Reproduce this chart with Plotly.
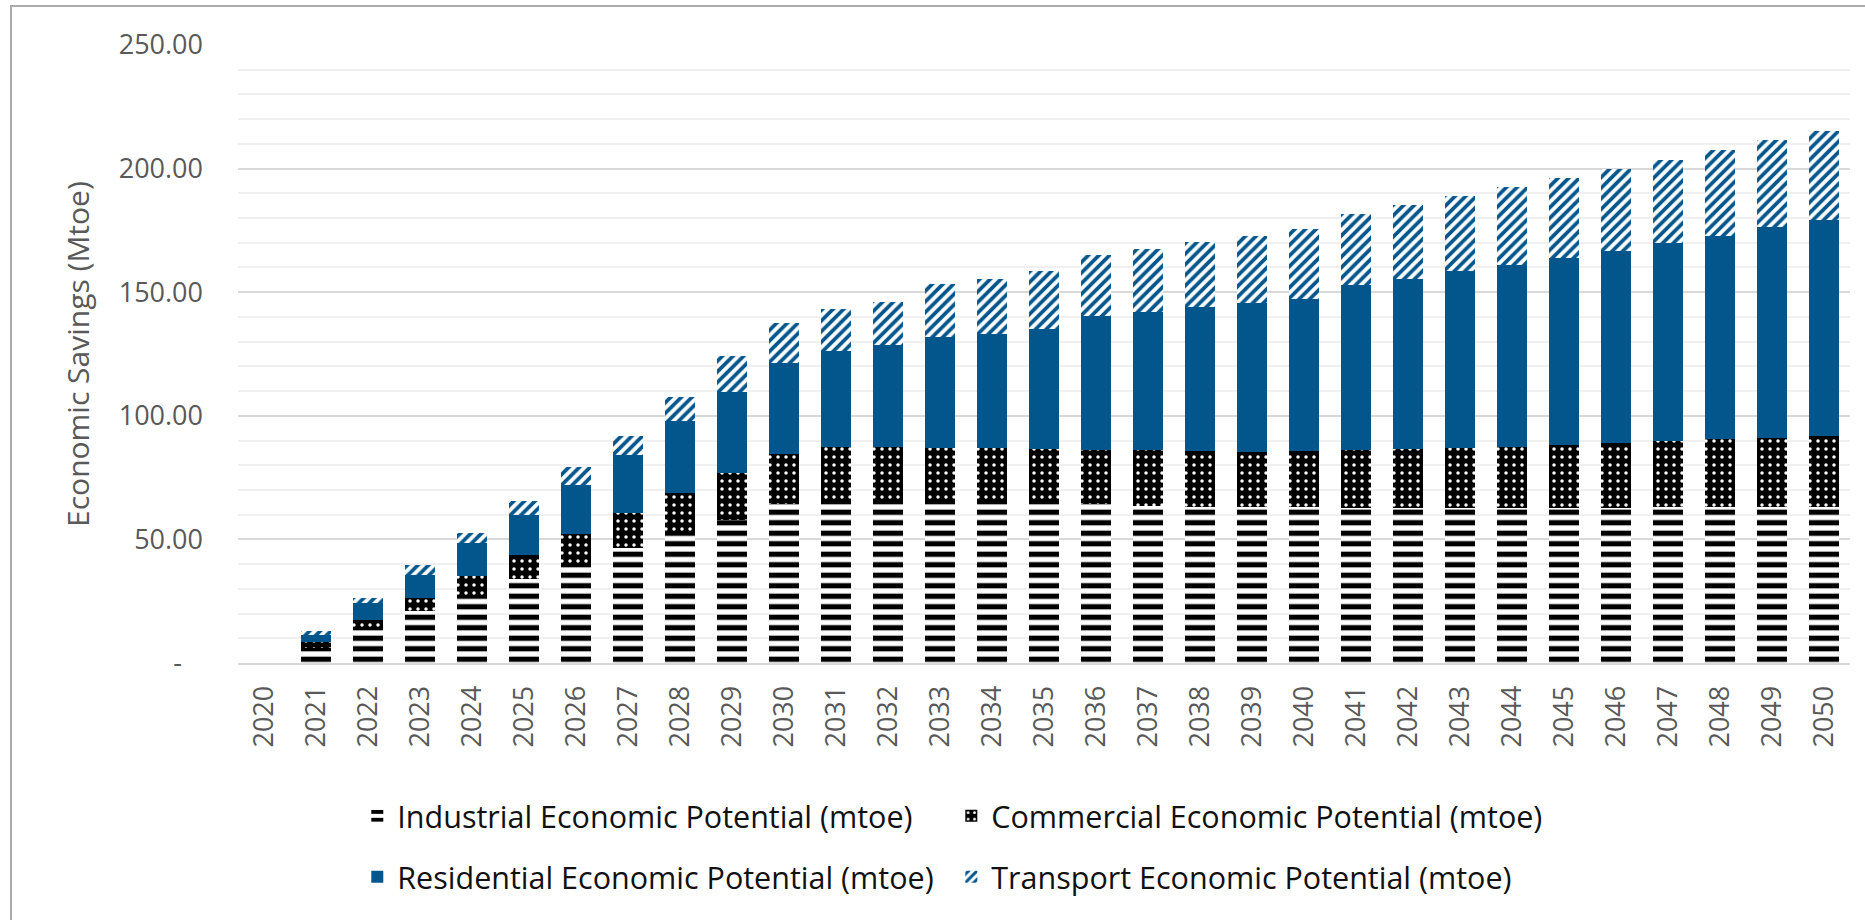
import plotly.graph_objects as go

# Categories (years)
years = ["2020", "2021", "2022", "2023", "2024", "2025", "2026", "2027", "2028", "2029",
         "2030", "2031", "2032", "2033", "2034", "2035", "2036", "2037", "2038", "2039",
         "2040", "2041", "2042", "2043", "2044", "2045", "2046", "2047", "2048", "2049",
         "2050"]

# Economic potential by sector (mtoe)
industrial = [0.0, 6.0, 13.5, 20.9, 26.6, 34.1, 39.9, 46.4, 52.7, 57.8,
              64.5, 65.5, 65.9, 65.9, 65.5, 64.9, 64.5, 63.4, 63.2, 63.0,
              63.0, 62.9, 62.9, 62.9, 62.9, 62.9, 62.9, 63.0, 63.0, 63.1,
              63.2]
commercial = [0.0, 2.5, 3.8, 5.5, 8.5, 9.7, 12.1, 14.1, 16.2, 19.1,
              20.2, 21.9, 21.5, 21.1, 21.3, 21.6, 21.6, 22.7, 22.6, 22.4,
              22.8, 23.2, 23.7, 24.1, 24.5, 25.2, 26.2, 27.0, 27.6, 27.9,
              28.5]
residential = [0.0, 3.0, 6.8, 9.4, 13.3, 15.9, 19.9, 23.7, 29.1, 32.7,
               36.6, 38.8, 41.1, 44.8, 46.4, 48.7, 54.2, 56.0, 58.3, 60.1,
               61.6, 66.7, 68.9, 71.4, 73.7, 75.7, 77.4, 79.8, 82.2, 85.2,
               87.6]
transport = [0.0, 1.3, 2.3, 3.7, 4.0, 5.8, 7.2, 7.6, 9.8, 14.7,
             16.2, 17.1, 17.5, 21.6, 22.0, 23.2, 24.6, 25.5, 26.3, 27.2,
             28.2, 29.0, 29.7, 30.4, 31.5, 32.6, 33.5, 33.7, 34.8, 35.2,
             36.1]

# Value axis ticks
y_tick_vals = [0, 50, 100, 150, 200, 250]
y_tick_text = ["-\u00a0\u00a0\u00a0", "50.00", "100.00", "150.00", "200.00", "250.00"]

BLUE = "#03568C"
GREY_TEXT = "#595959"
FONT = "Open Sans"

fig = go.Figure()

fig.add_trace(go.Bar(
    x=years, y=industrial, name="Industrial Economic Potential (mtoe)",
    legend="legend", showlegend=True,
    marker=dict(color="white", line=dict(width=0),
                pattern=dict(shape="-", fgcolor="black", bgcolor="white",
                             size=10.5, solidity=0.5, fillmode="replace")),
))
fig.add_trace(go.Bar(
    x=years, y=commercial, name="Commercial Economic Potential (mtoe)",
    legend="legend2", showlegend=True,
    marker=dict(color="black", line=dict(width=0),
                pattern=dict(shape=".", fgcolor="white", bgcolor="black",
                             size=8, solidity=0.15, fillmode="replace")),
))
fig.add_trace(go.Bar(
    x=years, y=residential, name="Residential Economic Potential (mtoe)",
    legend="legend3", showlegend=True,
    marker=dict(color=BLUE, line=dict(width=0)),
))
fig.add_trace(go.Bar(
    x=years, y=transport, name="Transport Economic Potential (mtoe)",
    legend="legend4", showlegend=True,
    marker=dict(color="white", line=dict(width=0),
                pattern=dict(shape="/", fgcolor=BLUE, bgcolor="white",
                             size=7.5, solidity=0.5, fillmode="replace")),
))

legend_common = dict(
    orientation="h", xref="paper", yref="paper",
    xanchor="left", yanchor="middle", visible=True,
    font=dict(family=FONT, size=30.5, color="#111111"),
    bgcolor="rgba(0,0,0,0)",
)
col1_x, col2_x = 0.074, 0.4425
row1_y, row2_y = -0.2476, -0.346

fig.update_layout(
    width=1865, height=920,
    margin=dict(l=238, r=15, t=45, b=257, autoexpand=False),
    paper_bgcolor="white", plot_bgcolor="white",
    barmode="stack", bargap=0.43,
    showlegend=True,
    font=dict(family=FONT, color=GREY_TEXT),
    legend=dict(**legend_common, x=col1_x, y=row1_y),
    legend2=dict(**legend_common, x=col2_x, y=row1_y),
    legend3=dict(**legend_common, x=col1_x, y=row2_y),
    legend4=dict(**legend_common, x=col2_x, y=row2_y),
    xaxis=dict(
        type="category", tickangle=-90,
        tickfont=dict(family=FONT, size=27, color=GREY_TEXT),
        ticklabelstandoff=10,
        showgrid=False, showline=True, linecolor="#d9d9d9", linewidth=2,
        ticks="",
    ),
    yaxis=dict(
        range=[0, 250], tickvals=y_tick_vals, ticktext=y_tick_text,
        tickfont=dict(family=FONT, size=27, color=GREY_TEXT),
        ticklabelstandoff=34,
        showgrid=True, gridcolor="#d9d9d9", gridwidth=2,
        minor=dict(dtick=10, showgrid=True, gridcolor="#f0f0f0", gridwidth=2),
        zeroline=False, showline=False, ticks="",
    ),
    annotations=[dict(
        text="Economic Savings (Mtoe)", textangle=-90,
        xref="paper", yref="paper", x=-0.0999, y=0.5,
        xanchor="center", yanchor="middle", showarrow=False,
        font=dict(family=FONT, size=30, color=GREY_TEXT),
    )],
    shapes=[dict(
        type="rect", xref="paper", yref="paper",
        x0=-0.1408, x1=1.03, y0=-0.45, y1=1.063,
        line=dict(color="#ababab", width=2), fillcolor="rgba(0,0,0,0)",
        layer="above",
    )],
)

fig.write_html("out.html")
